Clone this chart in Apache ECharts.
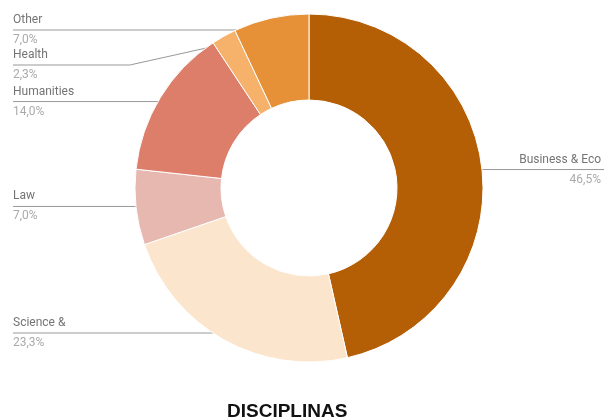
<!DOCTYPE html>
<html>
<head>
<meta charset="utf-8">
<script src="https://cdn.jsdelivr.net/npm/echarts@6/dist/echarts.min.js"></script>
<style>
  html, body { margin: 0; padding: 0; background: #fff; }
  #chart { width: 604px; height: 420px; }
</style>
</head>
<body>
<div id="chart"></div>
<script>
// data (percent of total)
const categories = ["Business & Eco", "Science &", "Law", "Humanities", "Health", "Other"];
const shares = [46.5, 23.3, 7.0, 14.0, 2.3, 7.0];
const colors = ["#b45f06", "#fce5cd", "#e6b8af", "#dd7e6b", "#f6b26b", "#e69138"];

const width = 604;
const height = 420;
const cx = 309;
const cy = 188;
const rOuter = 174;
const rInner = 88;
const rDot = 166;      // where the leader lines start, just inside the ring
const labelTop = 30;   // highest allowed label line
const labelGap = 35;   // min vertical gap between stacked labels

// anchor of each leader line on the slice's mid angle (clockwise from 12 o'clock)
const total = shares.reduce((a, b) => a + b, 0);
let acc = 0;
const anchors = shares.map((s) => {
  const a = (acc + s / 2) / total * Math.PI * 2;
  acc += s;
  return { x: cx + rDot * Math.sin(a), y: cy - rDot * Math.cos(a), left: Math.sin(a) < 0 };
});

// stack labels on each side so they do not overlap
const labelY = anchors.map((p) => p.y);
[true, false].forEach((side) => {
  const idx = anchors.map((p, i) => i).filter((i) => anchors[i].left === side)
    .sort((a, b) => anchors[a].y - anchors[b].y);
  let prev = labelTop - labelGap;
  idx.forEach((i) => {
    labelY[i] = Math.max(anchors[i].y, prev + labelGap);
    prev = labelY[i];
  });
});

const chart = echarts.init(document.getElementById("chart"), null, { renderer: "canvas", width, height });

const data = categories.map((name, i) => {
  const item = { name, value: shares[i], itemStyle: { color: colors[i] } };
  if (!anchors[i].left) item.label = { edgeDistance: 3 };
  return item;
});

chart.setOption({
  animation: false,
  backgroundColor: "#ffffff",
  title: {
    text: "DISCIPLINAS",
    left: 222,
    top: 397,
    textStyle: {
      fontFamily: "Liberation Sans, Arial, sans-serif",
      fontSize: 19,
      fontWeight: "bold",
      color: "#111"
    }
  },
  series: [
    {
      type: "pie",
      center: [cx, cy],
      radius: [rInner, rOuter],
      startAngle: 90,
      clockwise: true,
      data,
      itemStyle: { borderColor: "#ffffff", borderWidth: 1 },
      label: {
        show: true,
        position: "outside",
        alignTo: "edge",
        edgeDistance: 13,
        fontFamily: "Roboto, sans-serif",
        formatter: (p) => "{n|" + p.name + "}\n{v|" + p.value.toFixed(1).replace(".", ",") + "%}",
        rich: {
          n: { fontFamily: "Roboto, sans-serif", fontSize: 12, color: "#747474", lineHeight: 20 },
          v: { fontFamily: "Roboto, sans-serif", fontSize: 12, color: "#aaaaaa", lineHeight: 20 }
        }
      },
      labelLine: {
        show: true,
        length: 6,
        length2: 10,
        lineStyle: { color: "#999999", width: 1 }
      },
      labelLayout(params) {
        const i = params.dataIndex;
        const p = anchors[i];
        const y = labelY[i];
        const dy = Math.abs(y - p.y);
        const bendX = p.x + (p.left ? -1 : 1) * dy * 4.5;
        const endX = p.left ? params.labelRect.x : width;
        return {
          y,
          labelLinePoints: [[p.x, p.y], [bendX, y], [endX, y]]
        };
      }
    }
  ]
});
</script>
</body>
</html>
